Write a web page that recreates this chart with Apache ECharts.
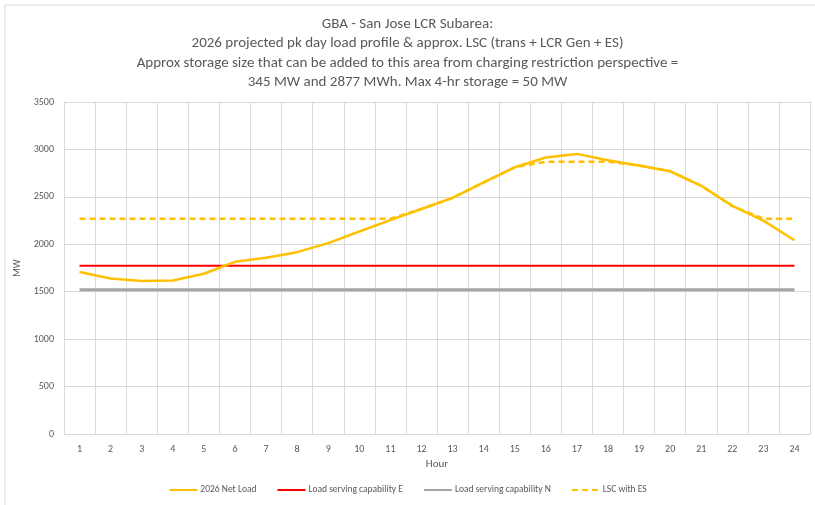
<!DOCTYPE html>
<html>
<head>
<meta charset="utf-8">
<script src="https://cdn.jsdelivr.net/npm/echarts@6/dist/echarts.min.js"></script>
<style>
html,body{margin:0;padding:0;background:#fff;}
#chart{width:815px;height:505px;}
</style>
</head>
<body>
<div id="chart"></div>
<script>
var hours = ['1','2','3','4','5','6','7','8','9','10','11','12','13','14','15','16','17','18','19','20','21','22','23','24'];
var netLoad = [1707,1640,1612,1619,1689,1815,1857,1917,2012,2135,2255,2372,2490,2652,2812,2915,2953,2886,2830,2770,2617,2405,2250,2042];
var lscE = [1775,1775,1775,1775,1775,1775,1775,1775,1775,1775,1775,1775,1775,1775,1775,1775,1775,1775,1775,1775,1775,1775,1775,1775];
var lscN = [1520,1520,1520,1520,1520,1520,1520,1520,1520,1520,1520,1520,1520,1520,1520,1520,1520,1520,1520,1520,1520,1520,1520,1520];
var lscES = [2270,2270,2270,2270,2270,2270,2270,2270,2270,2270,2270,2372,2490,2652,2812,2870,2870,2870,2830,2770,2617,2405,2270,2270];
var yTicks = [0,500,1000,1500,2000,2500,3000,3500];
var titleLines = ['GBA - San Jose LCR Subarea:','2026 projected pk day load profile & approx. LSC (trans + LCR Gen + ES)','Approx storage size that can be added to this area from charging restriction perspective =','345 MW and 2877 MWh. Max 4-hr storage = 50 MW'];

var FONT = "Carlito, 'Liberation Sans Narrow', 'Open Sans', sans-serif";
var chart = echarts.init(document.getElementById('chart'));
chart.setOption({
  animation: false,
  backgroundColor: '#ffffff',
  graphic: [{
    type: 'rect', shape: {x: 5, y: 5, width: 830, height: 520},
    style: {fill: 'none', stroke: '#d9d9d9', lineWidth: 1}, silent: true, z: -1
  }],
  title: {
    text: titleLines.join('\n'),
    left: 'center', top: 9,
    textStyle: {fontFamily: FONT, fontSize: 15, fontWeight: 'normal', color: '#595959', lineHeight: 19.6}
  },
  legend: {
    bottom: 5, left: 'center',
    itemWidth: 28, itemHeight: 3, itemGap: 20,
    itemStyle: {opacity: 0, borderWidth: 0},
    textStyle: {fontFamily: FONT, fontSize: 9.5, color: '#595959', padding: [0, 0, 0, -2]},
    data: ['2026 Net Load','Load serving capability E','Load serving capability N','LSC with ES']
  },
  grid: {left: 64, right: 5, top: 102, bottom: 71},
  xAxis: {
    type: 'category', data: hours, boundaryGap: true,
    name: 'Hour', nameLocation: 'middle', nameGap: 25,
    nameTextStyle: {fontFamily: FONT, fontSize: 11, color: '#595959'},
    axisLine: {lineStyle: {color: '#d9d9d9'}},
    axisTick: {show: false},
    axisLabel: {fontFamily: FONT, fontSize: 10, color: '#595959', margin: 10},
    splitLine: {show: true, lineStyle: {color: '#d9d9d9'}}
  },
  yAxis: {
    type: 'value', min: yTicks[0], max: yTicks[yTicks.length-1], interval: 500,
    name: 'MW', nameLocation: 'middle', nameGap: 31, nameRotate: 90,
    nameTextStyle: {fontFamily: FONT, fontSize: 10, color: '#595959'},
    axisLine: {show: false}, axisTick: {show: false},
    axisLabel: {fontFamily: FONT, fontSize: 10, color: '#595959', margin: 10, formatter: function (v) { return String(v); }},
    splitLine: {show: true, lineStyle: {color: '#d9d9d9'}}
  },
  series: [
    {name: 'Load serving capability N', type: 'line', data: lscN, symbol: 'none', lineStyle: {color: '#a5a5a5', width: 3}, itemStyle: {color: '#a5a5a5'}, z: 2},
    {name: 'Load serving capability E', type: 'line', data: lscE, symbol: 'none', lineStyle: {color: '#ff0000', width: 2}, itemStyle: {color: '#ff0000'}, z: 3},
    {name: 'LSC with ES', type: 'line', data: lscES, symbol: 'none', lineStyle: {color: '#ffc000', width: 2.5, type: [6, 4]}, itemStyle: {color: '#ffc000'}, z: 4},
    {name: '2026 Net Load', type: 'line', data: netLoad, symbol: 'none', lineStyle: {color: '#ffc000', width: 2.5}, itemStyle: {color: '#ffc000'}, z: 5}
  ]
});
</script>
</body>
</html>
